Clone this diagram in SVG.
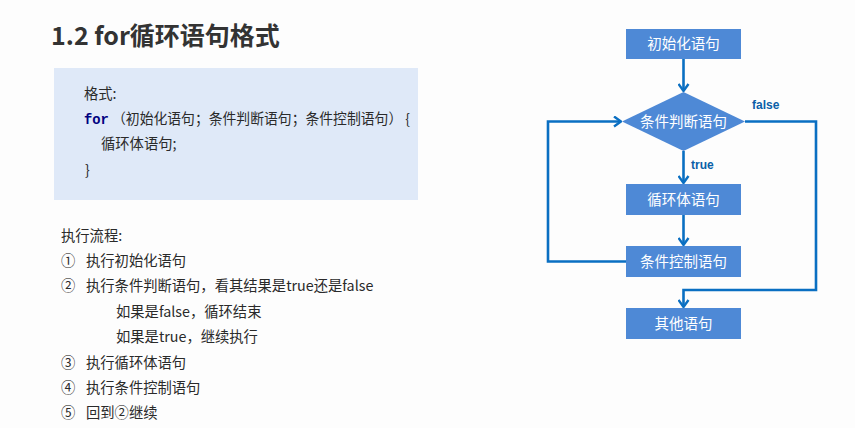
<svg xmlns="http://www.w3.org/2000/svg" width="855" height="428" viewBox="0 0 855 428">
<defs>
<style>
.t{font-family:"Noto Sans CJK SC","Liberation Sans",sans-serif;fill:#2a2a2a;font-size:14.3px}
.title{font-family:"Noto Sans CJK SC","Liberation Sans",sans-serif;font-weight:bold;font-size:25px;fill:#333}
.box{fill:#4e89d6}
.bt{font-family:"Noto Sans CJK SC","Liberation Sans",sans-serif;fill:#fff;font-size:14.5px;text-anchor:middle}
.ln{fill:none;stroke:#0a6fc2;stroke-width:2.6}
.lbl{font-family:"Liberation Sans",Arial,sans-serif;font-weight:bold;font-size:12px;fill:#0a5fa8}
</style>
<marker id="ah" viewBox="0 0 10 12" refX="9" refY="6" markerWidth="10" markerHeight="12" markerUnits="userSpaceOnUse" orient="auto">
<path d="M2,1 L9,6 L2,11" fill="none" stroke="#0a6fc2" stroke-width="2.4"/>
</marker>
</defs>
<rect width="855" height="428" fill="#fdfdfd"/>
<text class="title" x="51" y="45">1.2 for循环语句格式</text>
<g id="codebox">
<rect x="54" y="68" width="364" height="132" fill="#dfe9f8"/>
<text class="t" x="84" y="99" font-size="14">格式:</text>
<text class="t" x="84" y="124" font-size="14" textLength="326" lengthAdjust="spacingAndGlyphs"><tspan font-family="Liberation Mono,monospace" font-weight="bold" fill="#000080">for</tspan> （初始化语句；条件判断语句；条件控制语句） {</text>
<text class="t" x="101" y="149" font-size="14">循环体语句;</text>
<text class="t" x="85" y="175" font-size="14">}</text>
</g>
<g id="steps">
<text class="t" x="61" y="241">执行流程:</text>
<text class="t" x="61" y="266">①</text><text class="t" x="86" y="266">执行初始化语句</text>
<text class="t" x="61" y="291">②</text><text class="t" x="86" y="291">执行条件判断语句，看其结果是true还是false</text>
<text class="t" x="116" y="317">如果是false，循环结束</text>
<text class="t" x="116" y="342">如果是true，继续执行</text>
<text class="t" x="61" y="368">③</text><text class="t" x="86" y="368">执行循环体语句</text>
<text class="t" x="61" y="393">④</text><text class="t" x="86" y="393">执行条件控制语句</text>
<text class="t" x="61" y="418">⑤</text><text class="t" x="86" y="418">回到②继续</text>
</g>
<g id="connectors">
<line class="ln" x1="683.5" y1="59" x2="683.5" y2="91" marker-end="url(#ah)"/>
<line class="ln" x1="683.5" y1="151" x2="683.5" y2="183" marker-end="url(#ah)"/>
<line class="ln" x1="683.5" y1="215" x2="683.5" y2="245" marker-end="url(#ah)"/>
<polyline class="ln" points="626,261.5 548,261.5 548,121.5 621,121.5" marker-end="url(#ah)"/>
<polyline class="ln" points="745,121.5 816,121.5 816,290 683.5,290 683.5,307" marker-end="url(#ah)"/>
<text class="lbl" x="752" y="109">false</text>
<text class="lbl" x="691" y="169">true</text>
</g>
<g id="init">
<rect class="box" x="626" y="29" width="115" height="30"/>
<text class="bt" x="683.5" y="49">初始化语句</text>
</g>
<g id="cond">
<polygon class="box" points="683.5,92 745,121.5 683.5,151 622,121.5"/>
<text class="bt" x="683.5" y="126.5">条件判断语句</text>
</g>
<g id="body">
<rect class="box" x="626" y="184" width="115" height="31"/>
<text class="bt" x="683.5" y="204.5">循环体语句</text>
</g>
<g id="ctrl">
<rect class="box" x="626" y="246" width="115" height="31"/>
<text class="bt" x="683.5" y="266.5">条件控制语句</text>
</g>
<g id="other">
<rect class="box" x="626" y="308" width="115" height="31"/>
<text class="bt" x="683.5" y="328.5">其他语句</text>
</g>
</svg>
